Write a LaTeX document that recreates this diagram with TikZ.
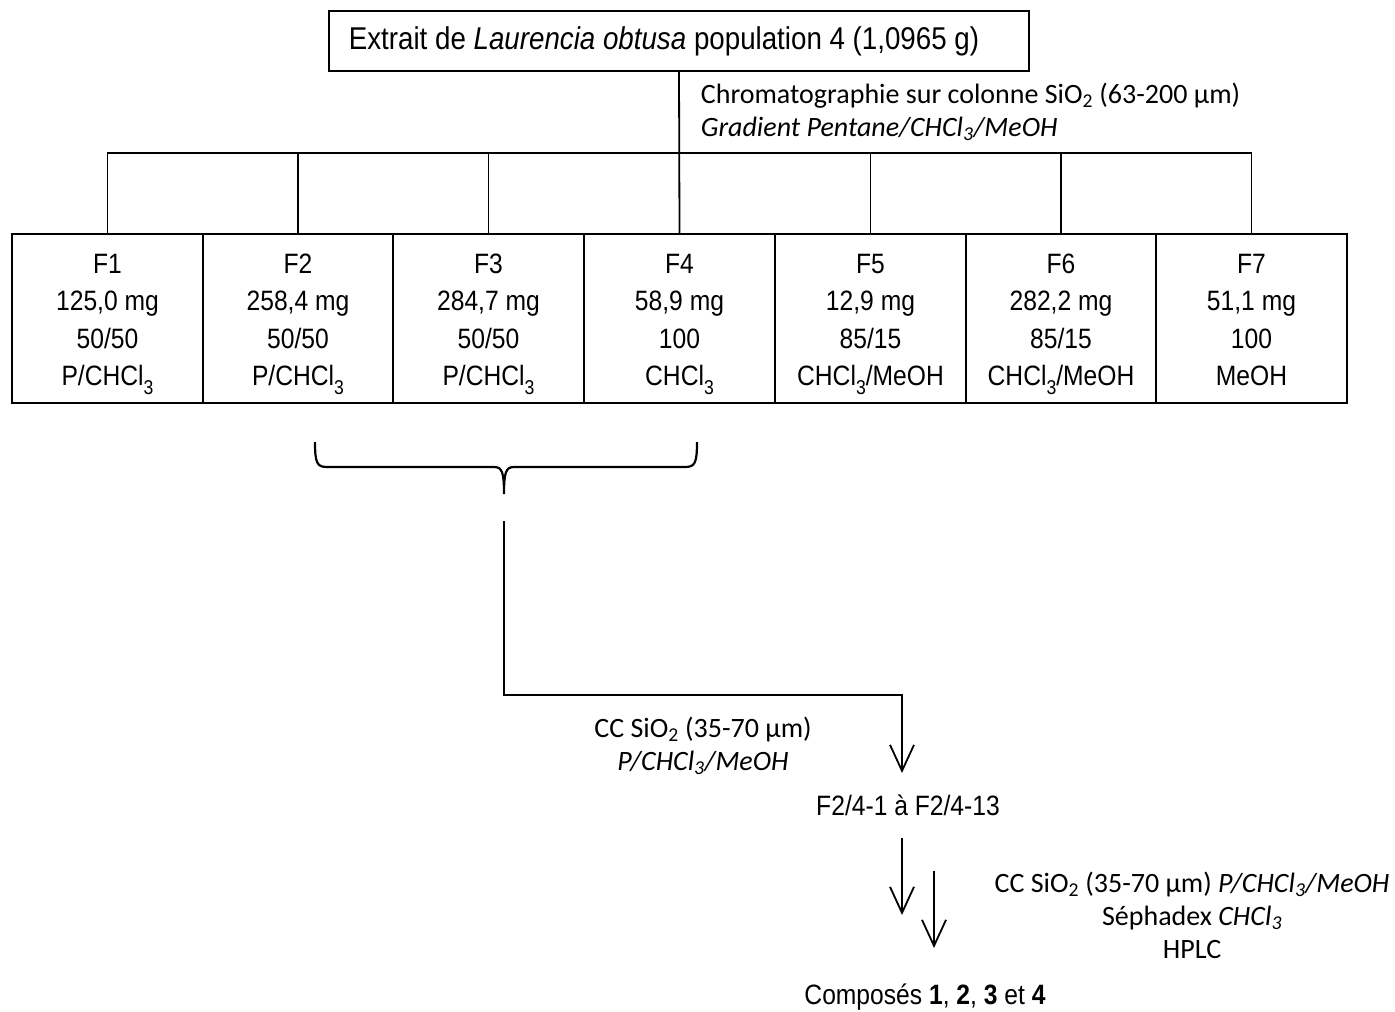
\documentclass[tikz,border=0pt]{standalone}
\usepackage{fontspec}
\setmainfont{Liberation Sans}[FakeStretch=0.88]
\newfontfamily\calibri{Carlito}
\usetikzlibrary{arrows.meta}
\newcommand{\sbs}[1]{\raisebox{-0.3em}{\fontsize{20}{20}\selectfont #1}}
\newcommand{\csb}[1]{\textsubscript{#1}}
\newcommand{\topstr}{\rule{0pt}{30.5pt}}
\begin{document}
\begin{tikzpicture}[x=1pt,y=-1pt,line width=1.8pt,
  frac/.style={draw,minimum width=191pt,minimum height=169pt,inner sep=0pt,align=center,font=\fontsize{28}{37.5}\selectfont},
  note/.style={inner sep=0pt,font=\calibri\fontsize{28}{33}\selectfont},
  arr/.style={-{Straight Barb[length=26pt,width=24pt]}},
  lab/.style={inner sep=0pt,font=\fontsize{28}{34}\selectfont}]
\useasboundingbox (0,0) rectangle (1395,1012);
\node[draw,minimum width=700pt,minimum height=60pt,inner sep=0pt,font=\fontsize{31.5}{34}\selectfont] (top) at (679,41)
  {Extrait de \textit{Laurencia obtusa} population 4 (1,0965 g)\hspace*{30pt}};
\node[frac] (f1) at (107.5,318.5) {\topstr F1\\125,0 mg\\50/50\\P/CHCl\sbs{3}};
\node[frac] (f2) at (298,318.5) {\topstr F2\\258,4 mg\\50/50\\P/CHCl\sbs{3}};
\node[frac] (f3) at (488.5,318.5) {\topstr F3\\284,7 mg\\50/50\\P/CHCl\sbs{3}};
\node[frac] (f4) at (679.5,318.5) {\topstr F4\\58,9 mg\\100\\CHCl\sbs{3}};
\node[frac] (f5) at (870.5,318.5) {\topstr F5\\12,9 mg\\85/15\\CHCl\sbs{3}/MeOH};
\node[frac] (f6) at (1061,318.5) {\topstr F6\\282,2 mg\\85/15\\CHCl\sbs{3}/MeOH};
\node[frac] (f7) at (1251.5,318.5) {\topstr F7\\51,1 mg\\100\\MeOH\vphantom{\sbs{3}}};
\coordinate (bar) at (679,153);
\draw (top.south) -- (f4.north);
\foreach \f in {f1,f2,f3,f5,f6,f7} \draw (\f.north) |- (bar);
\node[note,anchor=west,align=left] (cc1) at (700,112)
  {Chromatographie sur colonne SiO\csb{2} (63-200 µm)\\\textit{Gradient Pentane/CHCl\csb{3}/MeOH}};
% brace
\coordinate (bl) at (315,442);
\coordinate (br) at (697,442);
\coordinate (tip) at (504,494);
\draw[line width=2.2pt] (bl) .. controls (315,463) and (317,467) .. (327,467) -- (494,467)
  .. controls (502,467) and (504,472) .. (tip)
  .. controls (504,472) and (506,467) .. (514,467) -- (685,467)
  .. controls (695,467) and (697,463) .. (br);
\coordinate (m1) at (504,521);
\coordinate (c1) at (504,695);
\coordinate (a1) at (902,773);
\draw[arr] (m1) -- (c1) -| (a1);
\node[note,align=center] (cc2) at (703,746) {CC SiO\csb{2} (35-70 µm)\\\textit{P/CHCl\csb{3}/MeOH}};
\node[lab] (f24) at (908,805) {F2/4-1 à F2/4-13};
\coordinate (s1) at (902,838);
\coordinate (e1) at (902,915);
\coordinate (s2) at (934,871);
\coordinate (e2) at (934,948);
\draw[arr] (s1) -- (e1);
\draw[arr] (s2) -- (e2);
\node[note,align=center] (cc3) at (1192,915)
  {CC SiO\csb{2} (35-70 µm) \textit{P/CHCl\csb{3}/MeOH}\\Séphadex \textit{CHCl\csb{3}}\\HPLC};
\node[lab] (comp) at (925,997) {Composés \textbf{1}, \textbf{2}, \textbf{3} et \textbf{4}};
\end{tikzpicture}
\end{document}
